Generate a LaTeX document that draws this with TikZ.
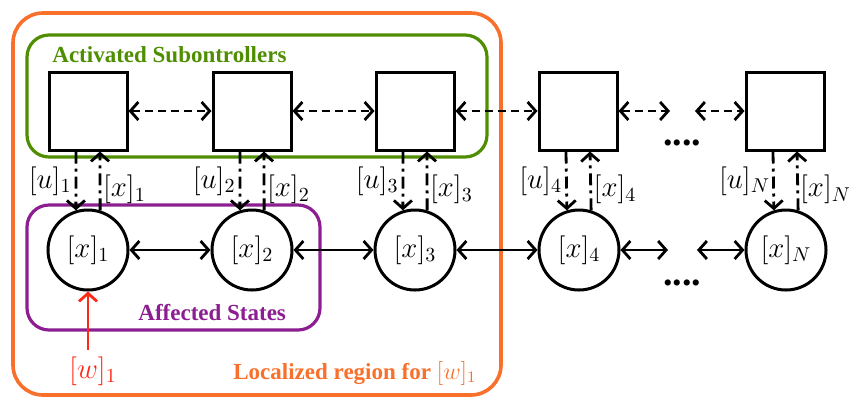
\documentclass[tikz,border=0pt]{standalone}
\usepackage[no-math]{fontspec}
\setmainfont{Liberation Serif}
\usetikzlibrary{arrows.meta}

\definecolor{regorange}{RGB}{248,112,44}
\definecolor{subgreen}{RGB}{78,142,0}
\definecolor{affpurple}{RGB}{140,30,145}
\definecolor{distred}{RGB}{255,40,20}

\tikzset{
  ctrl/.style={draw, line width=1.5pt, minimum size=39pt, inner sep=0pt},
  state/.style={draw, circle, line width=1.5pt, minimum size=40pt, inner sep=0pt},
  plant/.style={line width=1.4pt, {Straight Barb[length=4pt, width=9pt]}-{Straight Barb[length=4pt, width=9pt]}},
  comm/.style={plant, dash pattern=on 4pt off 2.5pt},
  sig/.style={line width=1.4pt, dash pattern=on 6pt off 2.5pt on 1.5pt off 2.5pt,
    -{Straight Barb[length=4pt, width=9pt]}},
  lbl/.style={font=\fontsize{11.5}{13}\selectfont\bfseries, inner sep=0pt, anchor=base west},
  gapdots/.style={font=\fontsize{19}{20}\selectfont\bfseries},
}

\begin{document}
\begin{tikzpicture}[x=0.5pt, y=-0.5pt, font=\fontsize{14}{16}\selectfont]
    \useasboundingbox (0,0) rectangle (849,398);
    % Regions
    \draw[regorange, line width=1.8pt, rounded corners=15pt] (13,13) rectangle (501,395);
    \draw[subgreen, line width=1.6pt, rounded corners=11pt] (27,35) rectangle (487,157);
    \draw[affpurple, line width=1.6pt, rounded corners=11pt] (27,205) rectangle (320,330);
    % Subcontrollers
    \node[ctrl] (b1) at (88,111) {};
    \node[ctrl] (b2) at (252,111) {};
    \node[ctrl] (b3) at (415,111) {};
    \node[ctrl] (b4) at (578,111) {};
    \node[ctrl] (bN) at (785,111) {};
    % States
    \node[state] (c1) at (88,250) {$[x]_1$};
    \node[state] (c2) at (252,250) {$[x]_2$};
    \node[state] (c3) at (415,250) {$[x]_3$};
    \node[state] (c4) at (579,250) {$[x]_4$};
    \node[state] (cN) at (786,250) {$[x]_N$};
    % Gaps
    \coordinate (bg1) at (670,111);
    \coordinate (bg2) at (695,111);
    \coordinate (cg1) at (668,250);
    \coordinate (cg2) at (697,250);
    \node[gapdots] (bdots) at (682,143) {....};
    \node[gapdots] (cdots) at (682,283) {....};
    % Communication
    \draw[comm] (b1) -- (b2);
    \draw[comm] (b2) -- (b3);
    \draw[comm] (b3) -- (b4);
    \draw[comm] (b4) -- (bg1);
    \draw[comm] (bg2) -- (bN);
    % Dynamics coupling
    \draw[plant] (c1) -- (c2);
    \draw[plant] (c2) -- (c3);
    \draw[plant] (c3) -- (c4);
    \draw[plant] (c4) -- (cg1);
    \draw[plant] (cg2) -- (cN);
    % Control and measurement
    \draw[sig] ([xshift=-6pt]b1.south) -- (c1.107) node[midway, left, inner sep=1.5pt] {$[u]_1$};
    \draw[sig] (c1.73) -- ([xshift=6pt]b1.south) node[pos=0.35, right, inner sep=0.8pt] {$[x]_1$};
    \draw[sig] ([xshift=-6pt]b2.south) -- (c2.107) node[midway, left, inner sep=1.5pt] {$[u]_2$};
    \draw[sig] (c2.73) -- ([xshift=6pt]b2.south) node[pos=0.35, right, inner sep=0.8pt] {$[x]_2$};
    \draw[sig] ([xshift=-6pt]b3.south) -- (c3.107) node[midway, left, inner sep=1.5pt] {$[u]_3$};
    \draw[sig] (c3.73) -- ([xshift=6pt]b3.south) node[pos=0.35, right, inner sep=0.8pt] {$[x]_3$};
    \draw[sig] ([xshift=-6pt]b4.south) -- (c4.107) node[midway, left, inner sep=1.5pt] {$[u]_4$};
    \draw[sig] (c4.73) -- ([xshift=6pt]b4.south) node[pos=0.35, right, inner sep=0.8pt] {$[x]_4$};
    \draw[sig] ([xshift=-6pt]bN.south) -- (cN.107) node[midway, left, inner sep=1pt] {$[u]_N$};
    \draw[sig] (cN.73) -- ([xshift=6pt]bN.south) node[pos=0.35, right, inner sep=0.5pt] {$[x]_N$};
    % Disturbance
    \node[distred] (w1) at (93,371) {$[w]_1$};
    \draw[distred, line width=1.4pt, -{Straight Barb[length=4pt, width=9pt]}] (c1.south |- w1.north) -- (c1.south);
    % Region labels
    \node[lbl, subgreen] (tsub) at (52,62) {Activated Subontrollers};
    \node[lbl, affpurple] (taff) at (138,320) {Affected States};
    \node[lbl, regorange] (treg) at (233,379) {Localized region for $[w]_1$};
\end{tikzpicture}
\end{document}
